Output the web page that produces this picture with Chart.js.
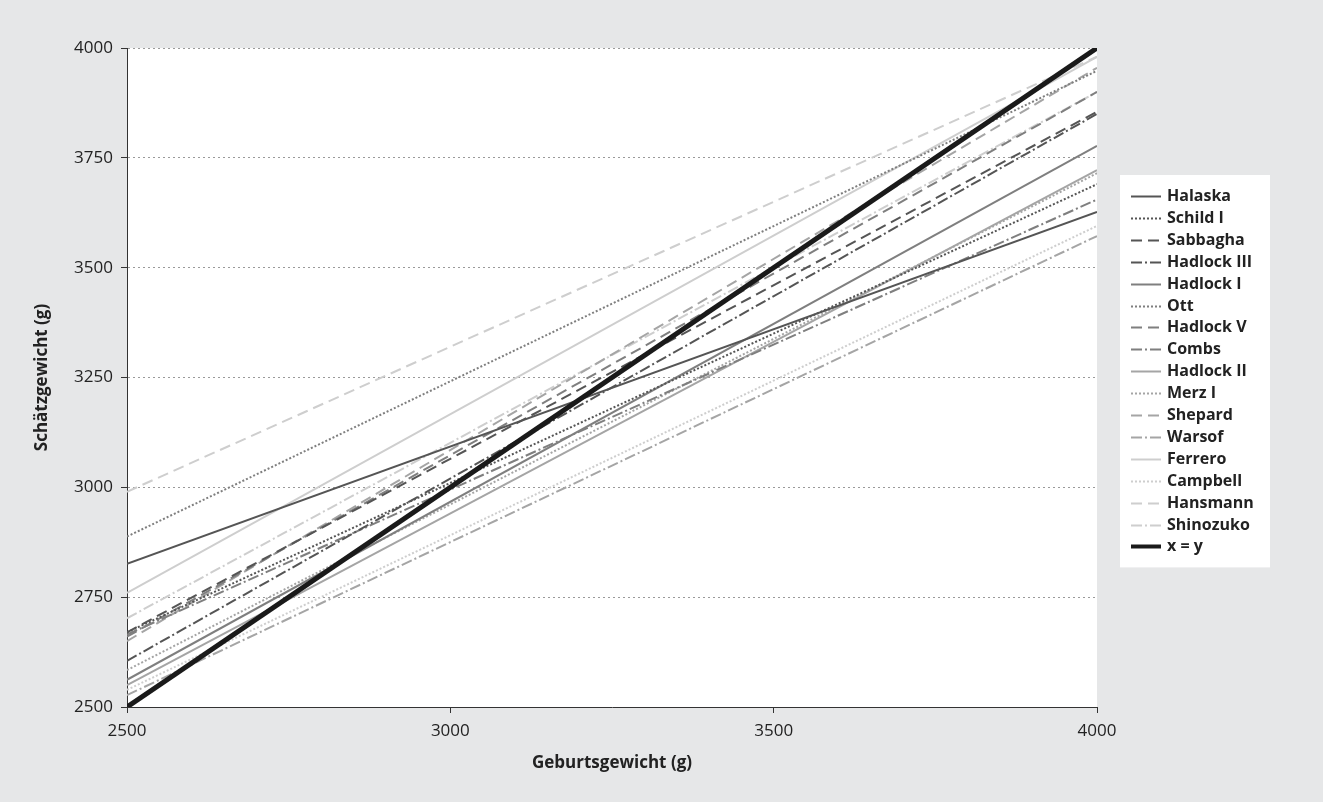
<!DOCTYPE html>
<html>
<head>
<meta charset="utf-8">
<script src="https://cdn.jsdelivr.net/npm/chart.js@4"></script>
<style>
    html, body { margin: 0; padding: 0; background: #e6e7e8; }
</style>
</head>
<body>
<canvas id="weightChart" width="1323" height="802"></canvas>
<script>
// estimated vs. actual birth weight, one straight line per formula
const methods = ['Halaska', 'Schild I', 'Sabbagha', 'Hadlock III', 'Hadlock I', 'Ott', 'Hadlock V', 'Combs',
    'Hadlock II', 'Merz I', 'Shepard', 'Warsof', 'Ferrero', 'Campbell', 'Hansmann', 'Shinozuko'];
const birthWeights = [2500, 4000];
const estimateAt2500 = [2826, 2670, 2670, 2605, 2562, 2888, 2660, 2665, 2550, 2584, 2650, 2527, 2760, 2539, 2990, 2702];
const estimateAt4000 = [3627, 3690, 3855, 3850, 3777, 3948, 3900, 3655, 3722, 3715, 3955, 3572, 3980, 3595, 3980, 3900];
const identityLabel = 'x = y';
const xTicks = [2500, 3000, 3500, 4000];
const yTicks = [2500, 2750, 3000, 3250, 3500, 3750, 4000];

const shades = ['#555555', '#7f7f7f', '#a5a5a5', '#cecece'];
const dashes = [[], [2, 2], [11, 6], [11, 3, 2, 3]];
const fontFamily = '"Open Sans", sans-serif';

const datasets = methods.map((name, i) => ({
    label: name,
    data: birthWeights.map((x, j) => ({ x: x, y: j === 0 ? estimateAt2500[i] : estimateAt4000[i] })),
    borderColor: shades[Math.floor(i / 4)],
    borderDash: dashes[i % 4],
    borderWidth: 2,
    pointRadius: 0,
    order: 0
}));
datasets.push({
    label: identityLabel,
    data: birthWeights.map(x => ({ x: x, y: x })),
    borderColor: '#1a1a1a',
    borderDash: [],
    borderWidth: 5,
    pointRadius: 0,
    order: -1
});

const plotBackground = {
    id: 'plotBackground',
    beforeDraw(chart) {
        const { ctx, chartArea: a } = chart;
        ctx.save();
        ctx.fillStyle = '#ffffff';
        ctx.fillRect(a.left, a.top, a.right - a.left, a.bottom - a.top);
        ctx.restore();
    }
};

// white legend box right of the plot
const legendBox = {
    id: 'legendBox',
    afterDraw(chart) {
        const ctx = chart.ctx;
        const left = chart.chartArea.right + 23;
        const top = 175;
        const step = 21.9;
        const rows = chart.data.datasets.length;
        ctx.save();
        ctx.fillStyle = '#ffffff';
        ctx.fillRect(left, top, 150, 42 + (rows - 1) * step);
        ctx.font = 'bold 16px ' + fontFamily;
        ctx.textBaseline = 'middle';
        chart.data.datasets.forEach((ds, i) => {
            const y = Math.round(top + 21 + i * step) + 0.5;
            ctx.beginPath();
            ctx.setLineDash(ds.borderDash);
            ctx.lineWidth = ds.borderWidth > 2 ? 4 : 2;
            ctx.strokeStyle = ds.borderColor;
            ctx.moveTo(left + 11, y);
            ctx.lineTo(left + 41, y);
            ctx.stroke();
            ctx.fillStyle = '#222222';
            ctx.fillText(ds.label, left + 47, y);
        });
        ctx.restore();
    }
};

new Chart(document.getElementById('weightChart'), {
    type: 'line',
    data: { datasets: datasets },
    options: {
        responsive: false,
        animation: false,
        layout: { padding: { left: 0, right: 226, top: 48, bottom: 0 } },
        plugins: { legend: { display: false }, tooltip: { enabled: false } },
        scales: {
            x: {
                type: 'linear',
                min: 2500,
                max: 4000,
                afterBuildTicks: axis => { axis.ticks = xTicks.map(v => ({ value: v })); },
                afterFit: axis => { axis.height = 95; },
                grid: { drawOnChartArea: false, tickLength: 6, tickColor: '#333333' },
                border: { color: '#333333' },
                ticks: {
                    color: '#222222', padding: 8, font: { family: fontFamily, size: 17 },
                    callback: v => String(v)
                },
                title: {
                    display: true, text: 'Geburtsgewicht (g)', color: '#222222',
                    font: { family: fontFamily, size: 17, weight: 'bold' },
                    padding: { top: 0, bottom: 29 }
                }
            },
            y: {
                min: 2500,
                max: 4000,
                afterBuildTicks: axis => { axis.ticks = yTicks.map(v => ({ value: v })); },
                afterFit: axis => { axis.width = 127; },
                grid: { color: '#9a9a9a', tickLength: 6, tickColor: '#333333' },
                border: { color: '#333333', dash: [2, 3] },
                ticks: {
                    color: '#222222', padding: 8, font: { family: fontFamily, size: 17 },
                    callback: v => String(v)
                },
                title: {
                    display: true, text: 'Schätzgewicht (g)', color: '#222222',
                    font: { family: fontFamily, size: 17, weight: 'bold' },
                    padding: { top: 32, bottom: 0 }
                }
            }
        }
    },
    plugins: [plotBackground, legendBox]
});
</script>
</body>
</html>
